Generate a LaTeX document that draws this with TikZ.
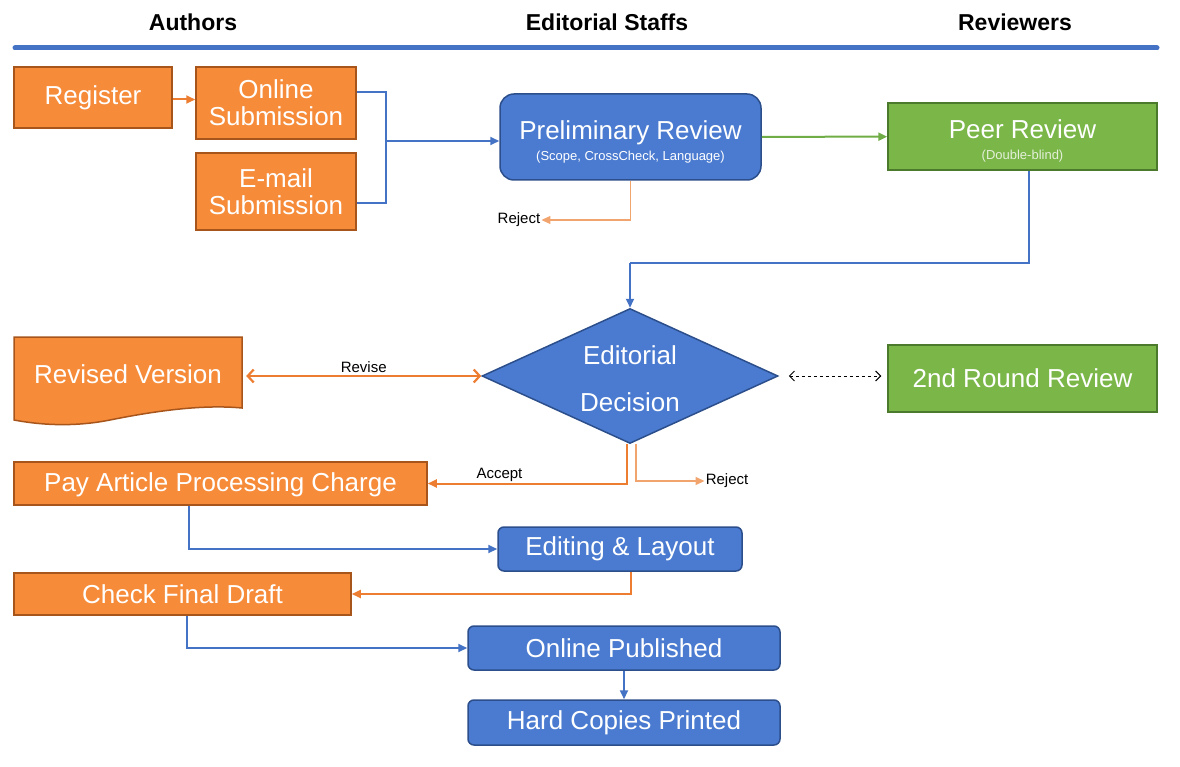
\documentclass[tikz,border=0pt]{standalone}
\usepackage{fontspec}
\setmainfont{Liberation Sans}
\usetikzlibrary{shapes.geometric}
\usetikzlibrary{arrows.meta}

\definecolor{authfill}{HTML}{F68B3A}
\definecolor{authedge}{HTML}{A8551C}
\definecolor{stafffill}{HTML}{4A7BD0}
\definecolor{staffedge}{HTML}{2C4F8C}
\definecolor{revfill}{HTML}{7AB648}
\definecolor{revedge}{HTML}{4B7A2C}
\definecolor{blueline}{HTML}{4472C4}
\definecolor{orangeline}{HTML}{ED7D31}
\definecolor{greenline}{HTML}{70AD47}

\newcommand\bigtext{\fontsize{26}{27}\selectfont}
\newcommand\smalltext{\fontsize{13}{15}\selectfont}

\tikzset{
  authbox/.style={draw=authedge, fill=authfill, line width=1.5pt, text=white,
    align=center, inner sep=0pt, font=\bigtext},
  staffbox/.style={draw=staffedge, fill=stafffill, line width=1.5pt, text=white,
    align=center, inner sep=0pt, font=\bigtext, rounded corners=6pt},
  revbox/.style={draw=revedge, fill=revfill, line width=1.5pt, text=white,
    align=center, inner sep=0pt, font=\bigtext},
  headtext/.style={font=\fontsize{23}{26}\selectfont\bfseries},
  linktext/.style={font=\fontsize{15}{17}\selectfont, inner sep=1pt},
  bluearr/.style={draw=blueline, line width=2pt, -{Triangle[length=9pt,width=8pt]}},
  orangearr/.style={draw=orangeline, line width=2pt, -{Triangle[length=9pt,width=8pt]}},
  greenarr/.style={draw=greenline, line width=2pt, -{Triangle[length=9pt,width=8pt]}}
}

\begin{document}
\begin{tikzpicture}[x=1pt,y=-1pt]
  \useasboundingbox (0,0) rectangle (1180,767);

% column heads
  \node[headtext] (hauth) at (193,22) {Authors};
  \node[headtext] (hstaff) at (607,22) {Editorial Staffs};
  \node[headtext] (hrev) at (1015,22) {Reviewers};
  \draw[blueline, line width=5pt, line cap=round] (15,48) -- (1157,48);

% submission
  \node[authbox, minimum width=158pt, minimum height=61pt] (register) at (93,97.5) {Register};
  \node[authbox, minimum width=160pt, minimum height=72pt] (online) at (276,103) {Online\\Submission};
  \node[authbox, minimum width=160pt, minimum height=77pt] (email) at (276,191.5) {E-mail\\Submission};
  \draw[orangearr] ([yshift=-2pt]register.east) -- ([yshift=-2pt]register.east -| online.west);

% preliminary and peer review
  \node[staffbox, rounded corners=14pt, minimum width=261pt, minimum height=86pt] (prelim) at (630.5,137)
    {\rule{0pt}{28pt}Preliminary Review\\[-6pt]{\smalltext (Scope, CrossCheck, Language)}};
  \node[revbox, minimum width=269pt, minimum height=67pt] (peer) at (1022.5,136.5)
    {\rule{0pt}{28pt}Peer Review\\[-6pt]{\smalltext\color{revfill!20!white} (Double-blind)}};
  \coordinate (join) at (386,141);
  \draw[blueline, line width=2pt] ([yshift=11pt]online.east) -| (join) |- ([yshift=-12pt]email.east);
  \draw[bluearr] (join) -- (join -| prelim.west);
  \draw[greenarr] (prelim) -- (peer);
  \node[linktext] (rej1) at (519,220) {Reject};
  \draw[orangearr, draw=orangeline!70!white, line width=1.3pt] (prelim.south) |- (rej1.east);

% editorial decision
  \node[diamond, aspect=2.19, minimum width=296pt, minimum height=135pt, inner sep=0pt,
    draw=staffedge, fill=stafffill, line width=1.5pt, text=white, align=center,
    font=\fontsize{26}{47}\selectfont] (dec) at (630,376) {\rule{0pt}{25pt}Editorial\\Decision};
  \coordinate (bend) at (630,263);
  \draw[blueline, line width=2pt] ([xshift=6pt]peer.south) |- (bend);
  \draw[bluearr] (bend) -- (dec.north);

% revised version
  \fill[authfill] (14,337) -- (242,337) -- (242,408)
    .. controls (200,404) and (150,412) .. (110,420)
    .. controls (70,428) and (35,424) .. (14,420) -- cycle;
  \draw[authedge, line width=1.5pt] (14,337) -- (242,337) -- (242,408)
    .. controls (200,404) and (150,412) .. (110,420)
    .. controls (70,428) and (35,424) .. (14,420) -- cycle;
  \node[text=white, font=\bigtext, minimum width=228pt, minimum height=74pt, inner sep=0pt] (revised) at (128,374) {Revised Version};
  \draw[orangeline, line width=2.2pt, {Straight Barb[length=6pt,width=13pt]}-{Straight Barb[length=6pt,width=13pt]}]
    ([xshift=4pt]revised.east |- dec.west) -- (dec.west) node[midway, above, linktext, text=black, yshift=1pt] {Revise};

% second round
  \node[revbox, minimum width=269pt, minimum height=67pt] (second) at (1022.5,378.5) {2nd Round Review};
  \draw[dashed, line width=1pt, {Straight Barb[length=5pt,width=10pt]}-{Straight Barb[length=5pt,width=10pt]}]
    ([xshift=10pt]dec.east) -- ([xshift=-6pt]dec.east -| second.west);

% accept / reject
  \node[authbox, minimum width=413pt, minimum height=43pt] (pay) at (220.5,483.5) {\rule{0pt}{22pt}Pay Article Processing Charge};
  \node[linktext] (rej2) at (727,481) {Reject};
  \draw[orangearr] ([xshift=-3pt]dec.south) |- (pay.east) node[pos=0.82, above, linktext] {Accept};
  \draw[orangearr, draw=orangeline!70!white, line width=1.3pt] ([xshift=6pt]dec.south) |- (rej2.west);

% production
  \node[staffbox, minimum width=244pt, minimum height=44pt] (edit) at (620,549) {Editing \& Layout};
  \node[authbox, minimum width=337pt, minimum height=42pt] (check) at (182.5,594) {Check Final Draft};
  \node[staffbox, minimum width=312pt, minimum height=44pt] (pub) at (624,648) {Online Published};
  \node[staffbox, minimum width=312pt, minimum height=45pt] (hard) at (624,722.5) {Hard Copies Printed};
  \draw[bluearr] ([xshift=-32pt]pay.south) |- (edit.west);
  \draw[orangearr] ([xshift=11pt]edit.south) |- (check.east);
  \draw[bluearr] ([xshift=4pt]check.south) |- (pub.west);
  \draw[bluearr] (pub) -- (hard);

\end{tikzpicture}
\end{document}
